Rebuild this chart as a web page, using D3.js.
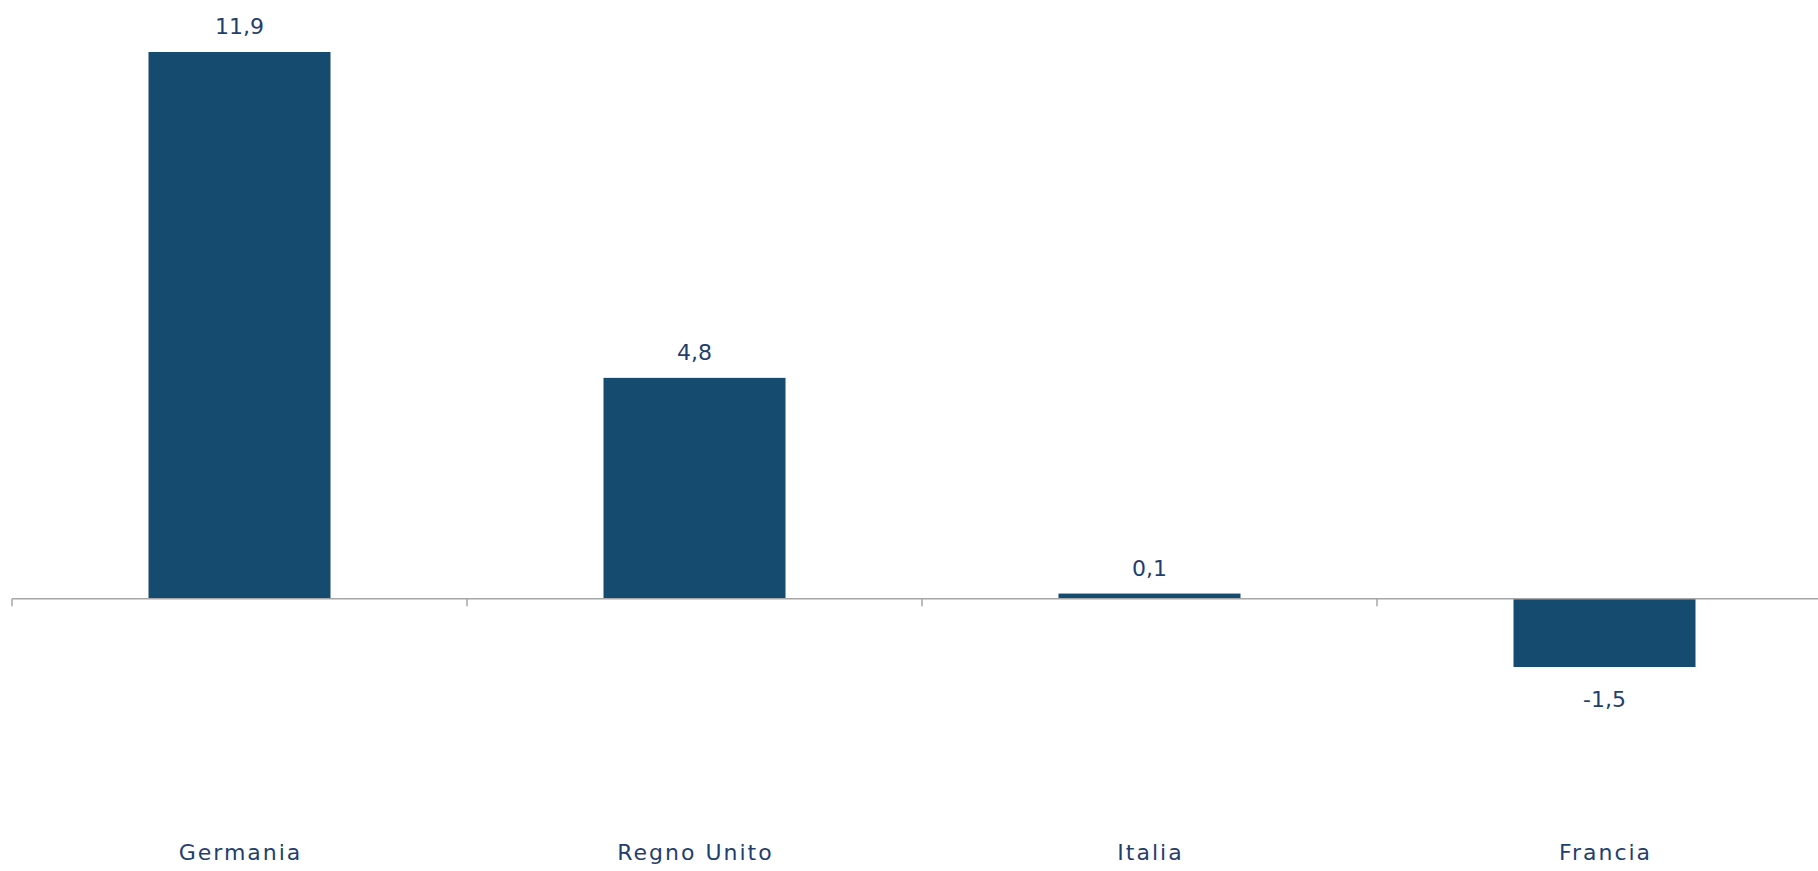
<!DOCTYPE html>
<html>
<head>
<meta charset="utf-8">
<script src="https://cdn.jsdelivr.net/npm/d3@7"></script>
<style>
  body { margin: 0; background: #ffffff; }
  svg { display: block; }
  text { font-family: "Century Gothic", "DejaVu Sans", sans-serif; fill: #1f3f6e; }
</style>
</head>
<body>
<div id="chart"></div>
<script>
// data
var categories = ["Germania", "Regno Unito", "Italia", "Francia"];
var values = [11.9, 4.8, 0.1, -1.5];
var valueLabels = ["11,9", "4,8", "0,1", "-1,5"];

var width = 1818, height = 871;
var barColor = "#154b6f", axisColor = "#a6a6a6";

var svg = d3.select("#chart").append("svg")
    .attr("width", width)
    .attr("height", height);

// band runs a little past the right edge, as in the original
var x = d3.scaleBand()
    .domain(categories)
    .range([12, 1832])
    .paddingInner(0.6)
    .paddingOuter(0.3);

var y = d3.scaleLinear()
    .domain([-1.5, 11.9])
    .range([667, 52]);

// bars
svg.selectAll(".bar")
    .data(values)
    .enter()
    .append("rect")
    .attr("class", "bar")
    .attr("x", function(d, i) { return x(categories[i]); })
    .attr("width", x.bandwidth())
    .attr("y", function(d) { return d >= 0 ? y(d) : y(0); })
    .attr("height", function(d) { return Math.abs(y(d) - y(0)); })
    .attr("fill", barColor);

// zero line with category boundary ticks
var step = x.step();
var x0 = x.range()[0];
svg.append("line")
    .attr("x1", x0).attr("x2", x.range()[1])
    .attr("y1", y(0) + 0.5).attr("y2", y(0) + 0.5)
    .attr("stroke", axisColor)
    .attr("stroke-width", 1.5);
svg.selectAll(".tick")
    .data(d3.range(categories.length + 1))
    .enter()
    .append("line")
    .attr("x1", function(i) { return x0 + i * step; })
    .attr("x2", function(i) { return x0 + i * step; })
    .attr("y1", y(0) + 0.5)
    .attr("y2", y(0) + 8)
    .attr("stroke", axisColor)
    .attr("stroke-width", 1.5);

// value labels
svg.selectAll(".val")
    .data(values)
    .enter()
    .append("text")
    .attr("class", "val")
    .attr("x", function(d, i) { return x(categories[i]) + x.bandwidth() / 2; })
    .attr("y", function(d) { return d >= 0 ? y(d) - 18 : y(d) + 40; })
    .attr("text-anchor", "middle")
    .attr("font-size", 22)
    .text(function(d, i) { return valueLabels[i]; });

// category labels
svg.selectAll(".cat")
    .data(categories)
    .enter()
    .append("text")
    .attr("class", "cat")
    .attr("x", function(d) { return x(d) + x.bandwidth() / 2 + 1; })
    .attr("y", 860)
    .attr("text-anchor", "middle")
    .attr("font-size", 22)
    .attr("letter-spacing", 2)
    .text(function(d) { return d; });
</script>
</body>
</html>
